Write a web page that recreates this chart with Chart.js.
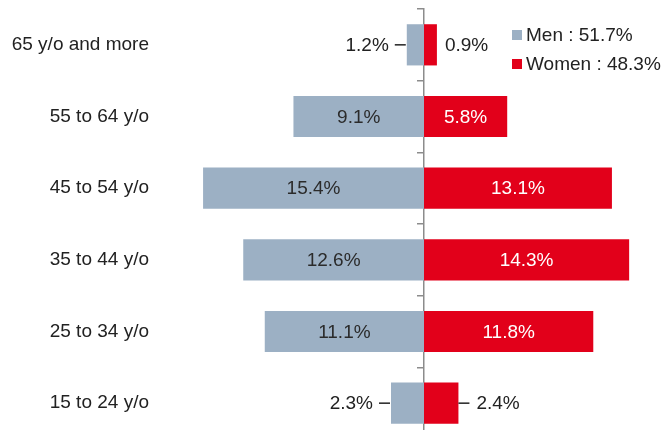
<!DOCTYPE html>
<html><head><meta charset="utf-8">
<script src="https://cdn.jsdelivr.net/npm/chart.js@4"></script>
<style>html,body{margin:0;padding:0;overflow:hidden;background:#fff;width:662px;height:430px}canvas{display:block}</style>
</head><body>
<canvas id="c" width="662" height="440"></canvas>
<script>
const categories = ['65 y/o and more', '55 to 64 y/o', '45 to 54 y/o', '35 to 44 y/o', '25 to 34 y/o', '15 to 24 y/o'];
const menValues = [1.2, 9.1, 15.4, 12.6, 11.1, 2.3];
const womenValues = [0.9, 5.8, 13.1, 14.3, 11.8, 2.4];
const seriesNames = ['Men', 'Women'];
const seriesTotals = [51.7, 48.3];
const menLeader = [true, false, false, false, false, true];
const womenLeader = [false, false, false, false, false, true];

const MEN = '#9cb0c4';
const WOMEN = '#e2001a';
const FONT = '"Liberation Sans", Arial, Helvetica, sans-serif';
const fmt = v => v.toFixed(1) + '%';

const labelPlugin = {
  id: 'barLabels',
  afterDatasetsDraw(chart) {
    const ctx = chart.ctx;
    ctx.save();
    ctx.font = '19px ' + FONT;
    ctx.textBaseline = 'middle';
    ctx.lineWidth = 1.5;
    ctx.strokeStyle = '#222';
    chart.data.datasets.forEach((ds, di) => {
      const meta = chart.getDatasetMeta(di);
      const vals = di === 0 ? menValues : womenValues;
      const leaders = di === 0 ? menLeader : womenLeader;
      meta.data.forEach((bar, i) => {
        const v = vals[i];
        const txt = fmt(v);
        const y = bar.y;
        if (v >= 3) {
          ctx.textAlign = 'center';
          ctx.fillStyle = di === 0 ? '#2b2b2b' : '#ffffff';
          ctx.fillText(txt, (bar.x + bar.base) / 2, y + 1);
        } else {
          ctx.fillStyle = '#222';
          if (di === 0) {
            const end = Math.min(bar.x, bar.base);
            if (leaders[i]) {
              ctx.beginPath(); ctx.moveTo(end - 1, y); ctx.lineTo(end - 12, y); ctx.stroke();
            }
            ctx.textAlign = 'right';
            ctx.fillText(txt, end - 18, y + 1);
          } else {
            const end = Math.max(bar.x, bar.base);
            if (leaders[i]) {
              ctx.beginPath(); ctx.moveTo(end, y); ctx.lineTo(end + 11, y); ctx.stroke();
              ctx.textAlign = 'left';
              ctx.fillText(txt, end + 18, y + 1);
            } else {
              ctx.textAlign = 'left';
              ctx.fillText(txt, end + 8, y + 1);
            }
          }
        }
      });
    });
    ctx.restore();
  }
};

const legendPlugin = {
  id: 'customLegend',
  afterDraw(chart) {
    const ctx = chart.ctx;
    ctx.save();
    ctx.font = '19px ' + FONT;
    ctx.textBaseline = 'middle';
    ctx.textAlign = 'left';
    const x0 = 512, ys = [35, 64];
    chart.data.datasets.forEach((ds, di) => {
      ctx.fillStyle = ds.backgroundColor;
      ctx.fillRect(x0, ys[di] - 5, 10, 10);
      ctx.fillStyle = '#222';
      ctx.fillText(ds.label, x0 + 14, ys[di] + 1);
    });
    ctx.restore();
  }
};

new Chart(document.getElementById('c'), {
  type: 'bar',
  data: {
    labels: categories,
    datasets: [
      { label: seriesNames[0] + ' : ' + fmt(seriesTotals[0]), data: menValues.map(v => -v), backgroundColor: MEN, barPercentage: 0.575, categoryPercentage: 1 },
      { label: seriesNames[1] + ' : ' + fmt(seriesTotals[1]), data: womenValues, backgroundColor: WOMEN, barPercentage: 0.575, categoryPercentage: 1 }
    ]
  },
  options: {
    indexAxis: 'y',
    responsive: false,
    animation: false,
    devicePixelRatio: 1,
    layout: { padding: { top: 9, bottom: 1, left: 0, right: 0 } },
    plugins: { legend: { display: false }, tooltip: { enabled: false } },
    scales: {
      x: { stacked: true, min: -16.59, max: 16.59, display: false },
      y: {
        stacked: true, position: 'left',
        grid: { display: false, drawTicks: false },
        border: { display: false },
        ticks: { padding: 37, color: '#222', font: { family: FONT, size: 19 } },
        afterFit(s) { s.width = 186; s.paddingTop = 0; s.paddingBottom = 0; }
      },
      y2: {
        type: 'category', position: { x: 0 }, offset: true,
        grid: { offset: true, drawOnChartArea: false, drawTicks: true, tickLength: 6, color: '#8c8c8c', lineWidth: 1.5 },
        border: { display: true, color: '#8c8c8c', width: 1.5 },
        ticks: { display: false },
        afterFit(s) { s.paddingTop = 0; s.paddingBottom = 0; }
      }
    }
  },
  plugins: [labelPlugin, legendPlugin]
});
</script>
</body></html>
